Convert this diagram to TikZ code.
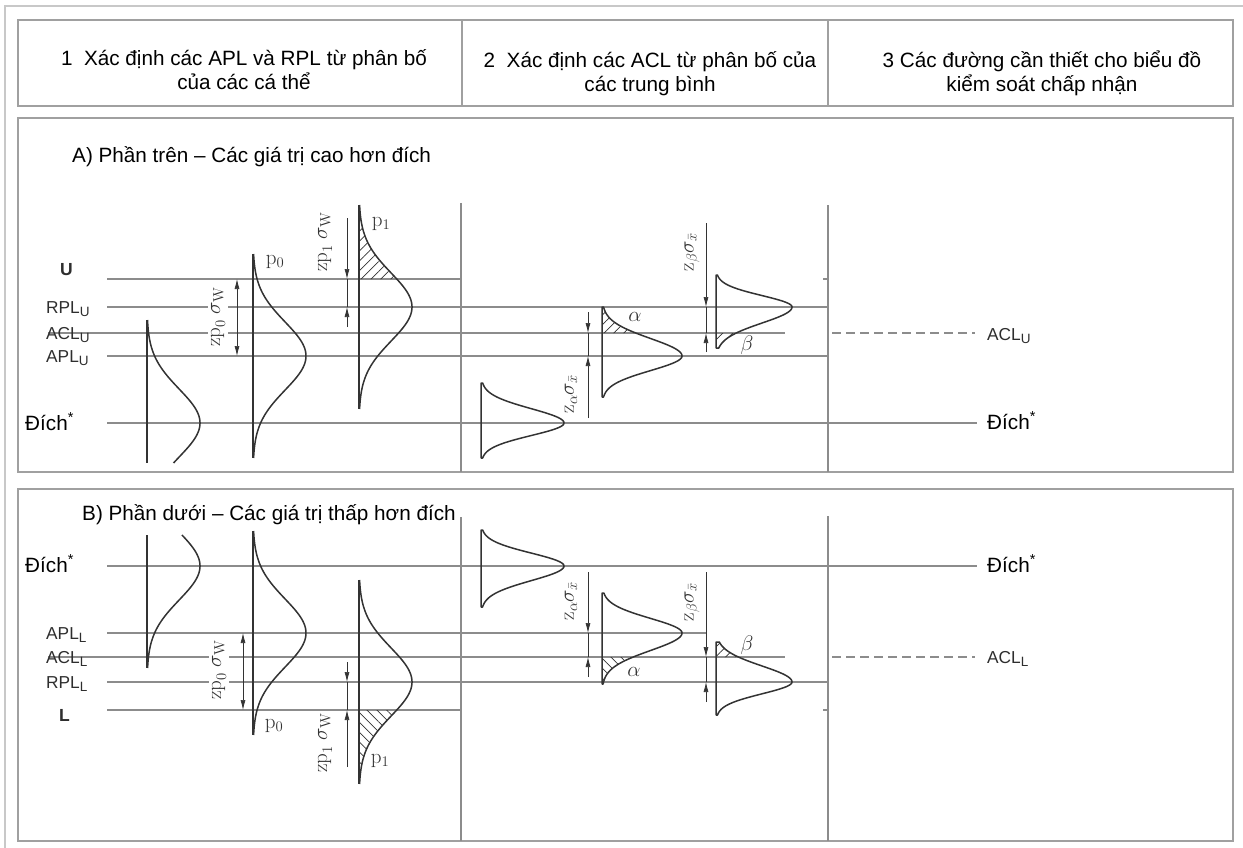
\RequirePackage{fix-cm}
\documentclass[tikz,border=0pt]{standalone}
\usepackage{fontspec}
\newfontfamily\arial{Liberation Sans}
\usetikzlibrary{arrows.meta,patterns.meta}
\definecolor{lin}{HTML}{8C8C8C}
\definecolor{crv}{HTML}{333333}
\definecolor{frm}{HTML}{A0A0A0}
\definecolor{outerc}{HTML}{C8C8C8}
\definecolor{lab}{HTML}{2E2E2E}
\tikzset{
 hline/.style={draw=lin,line width=1.1pt},
 crvs/.style={draw=crv,line width=1.5pt,line join=round},
 boxs/.style={draw=frm,line width=1.4pt},
 dimline/.style={draw=crv,line width=0.7pt},
 onearrow/.style={-{Latex[length=10pt,width=5pt]}},
 twoarrow/.style={{Latex[length=10pt,width=5pt]}-{Latex[length=10pt,width=5pt]}},
 viet/.style={font=\arial\fontsize{20.7}{24}\selectfont,text=black,inner sep=0pt},
 scan/.style={font=\arial\fontsize{17.3}{18}\selectfont,text=lab,inner sep=0pt},
 scanb/.style={font=\arial\bfseries\fontsize{17.5}{18}\selectfont,text=lab,inner sep=0pt},
 ser/.style={font=\fontsize{21}{22}\selectfont,text=crv,inner sep=0pt},
 rlab/.style={ser,rotate=90,inner sep=0pt},
 rlabw/.style={ser,rotate=90,fill=white,inner xsep=1pt,inner ysep=3pt},
}
\newcommand\lsub[1]{\raisebox{-3.5pt}{\fontsize{13.5}{13.5}\selectfont #1}}
% x0, m, A, sigma up, sigma down, t1, t2
\newcommand\gaussL[7]{%
 \draw[crvs] ({#1},{#2+(#6)}) -- ({#1},{#2+(#7)});
 \draw[crvs] plot[domain=#6:#7,samples=120] ({#1+#3*exp(-((\x)^2)/(2*(ifthenelse(\x<0,#4,#5))^2))},{#2+\x});
}
\newcommand\gaussM[7]{%
 \draw[crvs] ({#1},{#2+(#6)}) -- plot[domain=#6:#7,samples=120] ({#1+#3*exp(-((\x)^2)/(2*(ifthenelse(\x<0,#4,#5))^2))},{#2+\x}) -- ({#1},{#2+(#7)}) -- cycle;
}
\newcommand\hatchG[8]{%
 \fill[pattern={Lines[angle=#8,distance=7pt,line width=0.7pt]},pattern color=crv] ({#1},{#2+(#6)}) -- plot[domain=#6:#7,samples=60] ({#1+#3*exp(-((\x)^2)/(2*(ifthenelse(\x<0,#4,#5))^2))},{#2+\x}) -- ({#1},{#2+(#7)}) -- cycle;
}
\begin{document}
\begin{tikzpicture}[x=1pt,y=-1pt]
\useasboundingbox (0,0) rectangle (1243,848);
% frames
\draw[draw=outerc,line width=1.5pt] (5,848) -- (5,6) -- (1243,6);
\draw[boxs] (18,20) rectangle (1233,106);
\draw[boxs] (462,20) -- (462,106);
\draw[boxs] (828,20) -- (828,106);
\draw[boxs] (18,118) rectangle (1233,472);
\draw[boxs] (18,489) rectangle (1233,841);
% header
\node[viet,align=center] (h1) at (244,70) {1\ \ Xác định các APL và RPL từ phân bố\\của các cá thể};
\node[viet,align=center] (h2) at (650,74) {2\ \ Xác định các ACL từ phân bố của\\các trung bình};
\node[viet,align=center] (h3) at (1042,73) {3 Các đường cần thiết cho biểu đồ\\kiểm soát chấp nhận};
% ================= panel A
\node[viet,anchor=base west] (tA) at (72,163) {A) Phần trên – Các giá trị cao hơn đích};
\draw[hline] (461,203) -- (461,472);
\draw[hline] (828,205) -- (828,472);
\draw[hline] (107,279) -- (461,279);
\draw[hline] (823,279) -- (828,279);
\draw[hline] (107,307) -- (828,307);
\draw[hline] (48,333) -- (785,333);
\draw[hline,dash pattern=on 9pt off 5pt] (832,333) -- (975,333);
\draw[hline] (107,356) -- (828,356);
\draw[hline] (107,423) -- (977,423);
% hatches A
\hatchG{359}{307}{53}{34}{34}{-102}{-28}{45}
\hatchG{602}{356}{80}{17.5}{14.6}{-49}{-23}{45}
\hatchG{716}{307}{76}{11.4}{16}{26}{41}{45}
% curves A
\gaussL{147}{423}{53}{34}{34}{-103}{40}
\gaussL{253}{356}{53}{34}{34}{-102}{102}
\gaussL{359}{307}{53}{34}{34}{-102}{102}
\gaussM{481}{423}{83}{14.3}{12.5}{-40}{35}
\gaussM{602}{356}{80}{17.5}{14.6}{-49}{41}
\gaussM{716}{307}{76}{11.4}{16}{-32}{41}
% dimension arrows A
\coordinate (a0t) at (237,279); \coordinate (a0b) at (237,356);
\draw[dimline,twoarrow] (a0t) -- (a0b);
\coordinate (a1s) at (347,218); \coordinate (a1u) at (347,279);
\coordinate (a1r) at (347,307); \coordinate (a1e) at (347,327);
\draw[dimline,onearrow] (a1s) -- (a1u);
\draw[dimline] (a1u) -- (a1r);
\draw[dimline,onearrow] (a1e) -- (a1r);
\coordinate (aas) at (588,312); \coordinate (aac) at (588,333);
\coordinate (aap) at (588,356); \coordinate (aae) at (588,418);
\draw[dimline,onearrow] (aas) -- (aac);
\draw[dimline] (aac) -- (aap);
\draw[dimline,onearrow] (aae) -- (aap);
\coordinate (abs) at (706,223); \coordinate (abr) at (706,307);
\coordinate (abc) at (706,333); \coordinate (abe) at (706,352);
\draw[dimline,onearrow] (abs) -- (abr);
\draw[dimline] (abr) -- (abc);
\draw[dimline,onearrow] (abe) -- (abc);
% labels A
\node[rlabw] (lzp0A) at (218,317) {$\mathrm{zp}_0\;\sigma_{\mathrm{W}}$};
\node[rlab] (lzp1A) at (325,242) {$\mathrm{zp}_1\;\sigma_{\mathrm{W}}$};
\node[rlab] (lzaA) at (571,394) {$\mathrm{z}_{\alpha}\sigma_{\bar{x}}$};
\node[rlab] (lzbA) at (692,252) {$\mathrm{z}_{\beta}\sigma_{\bar{x}}$};
\node[ser] (p0A) at (275,262) {$\mathrm{p}_0$};
\node[ser] (p1A) at (381,224) {$\mathrm{p}_1$};
\node[ser] (alA) at (635,317) {$\alpha$};
\node[ser] (beA) at (747,345) {$\beta$};
\node[scanb,anchor=base west] (lU) at (60,275.5) {U};
\node[scan,anchor=base west] (lRU) at (46,313) {RPL\lsub{U}};
\node[scan,anchor=base west] (lCU) at (46,339) {ACL\lsub{U}};
\node[scan,anchor=base west] (lAU) at (46,362) {APL\lsub{U}};
\node[viet,anchor=base west] (lTA) at (25,430) {Đích\textsuperscript{*}};
\node[scan,anchor=base west] (rCU) at (987,340) {ACL\lsub{U}};
\node[viet,anchor=base west] (rTA) at (987,429) {Đích\textsuperscript{*}};
% ================= panel B
\draw[hline] (461,517) -- (461,841);
\draw[hline] (828,516) -- (828,841);
\draw[hline] (107,566) -- (977,566);
\draw[hline] (107,633) -- (706,633);
\draw[hline] (48,657) -- (785,657);
\draw[hline,dash pattern=on 9pt off 5pt] (832,657) -- (975,657);
\draw[hline] (107,682) -- (828,682);
\draw[hline] (107,710) -- (461,710);
\draw[hline] (823,710) -- (828,710);
\node[viet,anchor=base west] (tB) at (82,520) {B) Phần dưới – Các giá trị thấp hơn đích};
% hatches B
\hatchG{359}{682}{53}{34}{34}{28}{102}{135}
\hatchG{602}{633}{80}{14.6}{17.5}{24}{51}{135}
\hatchG{716}{682}{76}{16}{11.8}{-40}{-25}{45}
% curves B
\gaussL{147}{566}{53}{34}{34}{-31}{102}
\gaussL{253}{633}{53}{34}{34}{-102}{102}
\gaussL{359}{682}{53}{34}{34}{-102}{102}
\gaussM{481}{566}{83}{12.9}{14.6}{-36}{41}
\gaussM{602}{633}{80}{14.6}{17.5}{-40}{51}
\gaussM{716}{682}{76}{16}{11.8}{-40}{33}
% dimension arrows B
\coordinate (b0t) at (243,633); \coordinate (b0b) at (243,710);
\draw[dimline,twoarrow] (b0t) -- (b0b);
\coordinate (b1s) at (347,662); \coordinate (b1r) at (347,682);
\coordinate (b1l) at (347,710); \coordinate (b1e) at (347,767);
\draw[dimline,onearrow] (b1s) -- (b1r);
\draw[dimline] (b1r) -- (b1l);
\draw[dimline,onearrow] (b1e) -- (b1l);
\coordinate (bas) at (588,572); \coordinate (bap) at (588,633);
\coordinate (bac) at (588,657); \coordinate (bae) at (588,677);
\draw[dimline,onearrow] (bas) -- (bap);
\draw[dimline] (bap) -- (bac);
\draw[dimline,onearrow] (bae) -- (bac);
\coordinate (bbs) at (706,572); \coordinate (bbc) at (706,657);
\coordinate (bbr) at (706,682); \coordinate (bbe) at (706,702);
\draw[dimline,onearrow] (bbs) -- (bbc);
\draw[dimline] (bbc) -- (bbr);
\draw[dimline,onearrow] (bbe) -- (bbr);
% labels B
\node[rlabw] (lzp0B) at (219,670) {$\mathrm{zp}_0\;\sigma_{\mathrm{W}}$};
\node[rlab] (lzp1B) at (325,743) {$\mathrm{zp}_1\;\sigma_{\mathrm{W}}$};
\node[rlab] (lzaB) at (571,601) {$\mathrm{z}_{\alpha}\sigma_{\bar{x}}$};
\node[rlab] (lzbB) at (692,602) {$\mathrm{z}_{\beta}\sigma_{\bar{x}}$};
\node[ser] (p0B) at (274,726) {$\mathrm{p}_0$};
\node[ser] (p1B) at (380,761) {$\mathrm{p}_1$};
\node[ser] (alB) at (634,672) {$\alpha$};
\node[ser] (beB) at (747,645) {$\beta$};
\node[viet,anchor=base west] (lTB) at (25,572) {Đích\textsuperscript{*}};
\node[scan,anchor=base west] (lAL) at (46,639) {APL\lsub{L}};
\node[scan,anchor=base west] (lCL) at (46,663) {ACL\lsub{L}};
\node[scan,anchor=base west] (lRL) at (46,688) {RPL\lsub{L}};
\node[scanb,anchor=base west] (lL) at (59,721) {L};
\node[viet,anchor=base west] (rTB) at (987,572) {Đích\textsuperscript{*}};
\node[scan,anchor=base west] (rCL) at (987,663) {ACL\lsub{L}};
\end{tikzpicture}
\end{document}
